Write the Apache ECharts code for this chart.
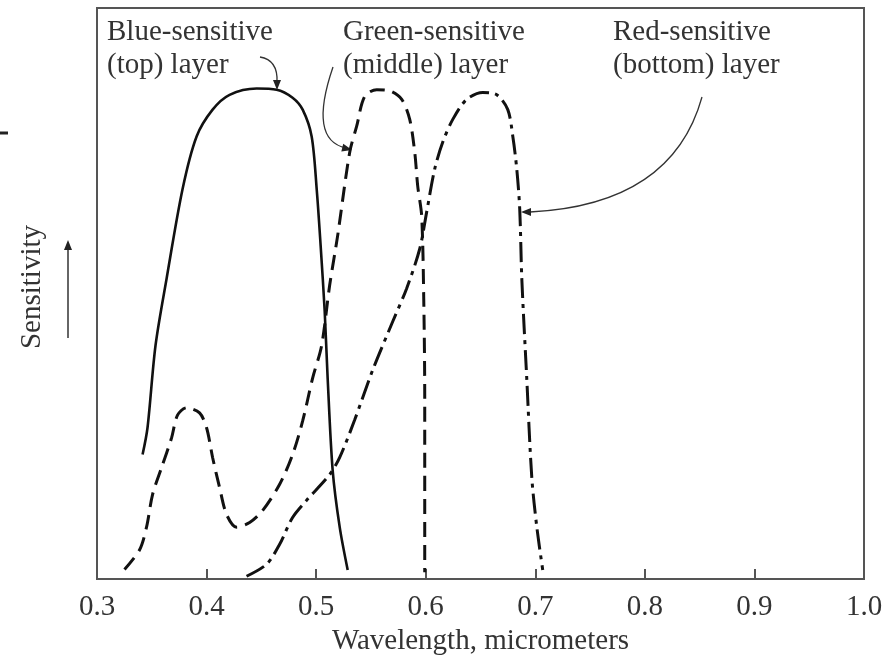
<!DOCTYPE html>
<html>
<head>
<meta charset="utf-8">
<script src="https://cdn.jsdelivr.net/npm/echarts@6/dist/echarts.min.js"></script>
<style>
  html, body { margin: 0; padding: 0; background: #fff; }
  #chart { width: 889px; height: 661px; }
</style>
</head>
<body>
<div id="chart"></div>
<script>
// wavelength (micrometers), relative sensitivity (0-100)
const blueLayer = [
  [0.3416, 21.8], [0.3461, 26.5], [0.3534, 40.9], [0.3635, 52.6], [0.3781, 68.3],
  [0.3909, 77.5], [0.4055, 82.2], [0.4210, 84.8], [0.4457, 85.9], [0.4639, 85.7],
  [0.4785, 84.3], [0.4877, 82.2], [0.4959, 77.5], [0.5005, 68.3], [0.5041, 58.4],
  [0.5078, 46.9], [0.5105, 35.2], [0.5151, 19.0], [0.5215, 9.1], [0.5288, 1.6]
];
const greenLayer = [
  [0.3251, 1.7], [0.3388, 5.1], [0.3452, 9.1], [0.3507, 14.8], [0.3589, 19.5],
  [0.3680, 24.7], [0.3735, 28.7], [0.3817, 30.0], [0.3936, 29.1], [0.4000, 26.5],
  [0.4055, 21.3], [0.4119, 16.0], [0.4183, 11.3], [0.4274, 9.1], [0.4393, 9.9],
  [0.4511, 12.0], [0.4667, 16.6], [0.4785, 21.8], [0.4877, 27.7], [0.4968, 35.2],
  [0.5050, 40.9], [0.5123, 51.4], [0.5196, 60.1], [0.5306, 74.7], [0.5370, 79.3],
  [0.5443, 84.5], [0.5553, 85.7], [0.5671, 85.5], [0.5781, 84.0], [0.5854, 80.5],
  [0.5900, 74.7], [0.5927, 68.8], [0.5963, 63.6], [0.5982, 49.1], [0.5991, 31.7],
  [0.5991, 1.2]
];
const redLayer = [
  [0.4365, 0.5], [0.4548, 2.6], [0.4667, 6.1], [0.4785, 10.8], [0.4913, 13.8],
  [0.5123, 18.3], [0.5215, 21.3], [0.5352, 27.9], [0.5516, 36.6], [0.5699, 45.1],
  [0.5826, 50.9], [0.5945, 57.8], [0.6009, 64.3], [0.6082, 71.8], [0.6155, 76.5],
  [0.6247, 80.5], [0.6374, 84.0], [0.6521, 85.2], [0.6648, 84.8], [0.6749, 82.2],
  [0.6795, 77.5], [0.6831, 71.8], [0.6858, 64.8], [0.6877, 52.6], [0.6922, 35.2],
  [0.6968, 17.8], [0.7014, 9.1], [0.7068, 1.6]
];
const xTicks = [0.3, 0.4, 0.5, 0.6, 0.7, 0.8, 0.9, 1.0];
const blueLabel = ["Blue-sensitive", "(top) layer"];
const greenLabel = ["Green-sensitive", "(middle) layer"];
const redLabel = ["Red-sensitive", "(bottom) layer"];

const serif = "'Liberation Serif', 'DejaVu Serif', serif";
const textColor = "#333";
const ink = "#111";

const chart = echarts.init(document.getElementById("chart"));

const labelText = (lines, x, y) => ({
  type: "text",
  left: x,
  top: y,
  style: {
    text: lines.join("\n"),
    font: "29px " + serif,
    lineHeight: 33,
    fill: textColor,
  },
});

const arrowHead = (tip, dx, dy) => {
  // small filled triangle pointing along (dx, dy)
  const len = Math.hypot(dx, dy);
  const ux = dx / len, uy = dy / len;
  const px = -uy, py = ux;
  const l = 10, w = 4;
  return {
    type: "polygon",
    shape: {
      points: [
        [tip[0], tip[1]],
        [tip[0] - ux * l + px * w, tip[1] - uy * l + py * w],
        [tip[0] - ux * l - px * w, tip[1] - uy * l - py * w],
      ],
    },
    style: { fill: "#222" },
  };
};

const curve = (x1, y1, cx, cy, x2, y2) => ({
  type: "bezierCurve",
  shape: { x1: x1, y1: y1, x2: x2, y2: y2, cpx1: cx, cpy1: cy },
  style: { stroke: "#333", lineWidth: 1.3, fill: null },
});

const option = {
  backgroundColor: "#fff",
  animation: false,
  grid: {
    left: 97,
    right: 25,
    top: 8,
    bottom: 79,
    show: true,
    borderColor: "#555",
    borderWidth: 2,
  },
  xAxis: {
    type: "value",
    min: 0.3,
    max: 1.0,
    interval: 0.1,
    name: "Wavelength, micrometers",
    nameLocation: "middle",
    nameGap: 46,
    nameTextStyle: { fontFamily: serif, fontSize: 29, color: textColor },
    axisLine: { show: true, lineStyle: { color: "#555", width: 2 } },
    axisTick: { show: true, inside: true, length: 10, lineStyle: { color: "#555", width: 2 } },
    splitLine: { show: false },
    axisLabel: {
      margin: 14,
      fontFamily: serif,
      fontSize: 29,
      color: textColor,
      formatter: (v) => {
        const t = xTicks.find((k) => Math.abs(k - v) < 1e-6);
        return t === undefined ? "" : t.toFixed(1);
      },
    },
  },
  yAxis: {
    type: "value",
    min: 0,
    max: 100,
    axisLine: { show: false },
    axisTick: { show: false },
    axisLabel: { show: false },
    splitLine: { show: false },
  },
  series: [
    {
      name: "Blue-sensitive",
      type: "line",
      data: blueLayer,
      smooth: 0.3,
      showSymbol: false,
      lineStyle: { color: ink, width: 2.6, type: "solid" },
    },
    {
      name: "Green-sensitive",
      type: "line",
      data: greenLayer,
      smooth: 0.3,
      showSymbol: false,
      lineStyle: { color: ink, width: 3, type: [15, 8], cap: "butt" },
    },
    {
      name: "Red-sensitive",
      type: "line",
      data: redLayer,
      smooth: 0.3,
      showSymbol: false,
      lineStyle: { color: ink, width: 3, type: [20, 6, 4, 6], cap: "butt" },
    },
  ],
  graphic: [
    labelText(blueLabel, 107, 16),
    labelText(greenLabel, 343, 16),
    labelText(redLabel, 613, 16),
    // annotation arrows
    curve(260, 57, 278, 60, 277, 82),
    arrowHead([277, 90], 0, 1),
    curve(333, 67, 308, 140, 346, 148),
    arrowHead([352, 150], 4, 1),
    curve(702, 97, 672, 205, 530, 212),
    arrowHead([521, 212], -1, 0),
    // y label with arrow
    {
      type: "text",
      x: 32,
      y: 287,
      rotation: Math.PI / 2,
      style: {
        text: "Sensitivity",
        font: "29px " + serif,
        fill: textColor,
        align: "center",
        verticalAlign: "middle",
      },
    },
    {
      type: "line",
      shape: { x1: 68, y1: 338, x2: 68, y2: 250 },
      style: { stroke: "#333", lineWidth: 1.5 },
    },
    arrowHead([68, 240], 0, -1),
    {
      type: "line",
      shape: { x1: 0, y1: 133, x2: 8, y2: 133 },
      style: { stroke: "#222", lineWidth: 3 },
    },
  ],
};

chart.setOption(option);
</script>
</body>
</html>
